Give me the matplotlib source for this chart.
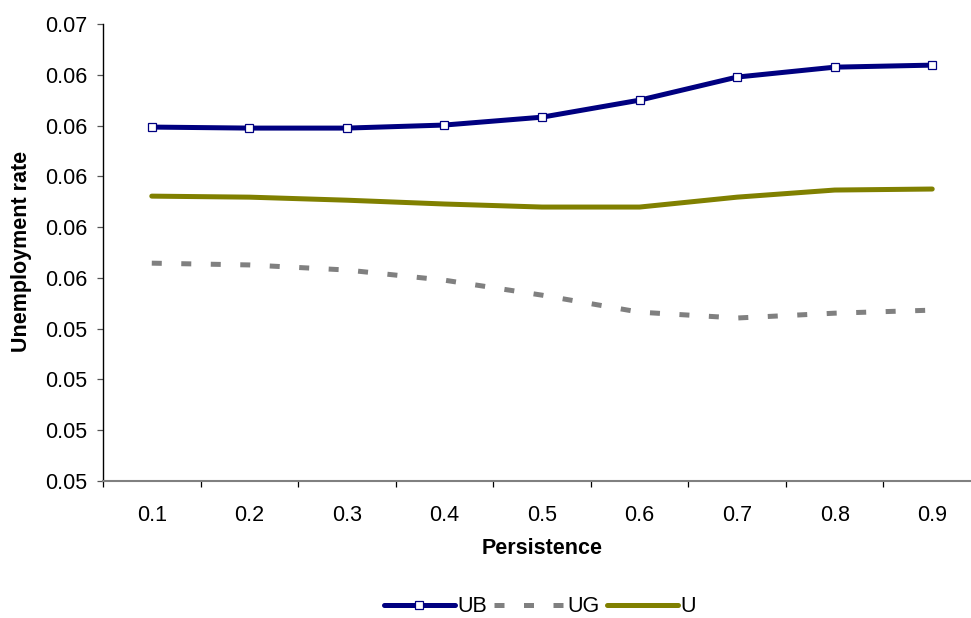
import matplotlib
matplotlib.use("Agg")
import matplotlib.pyplot as plt
from matplotlib.ticker import FormatStrFormatter, FixedLocator

plt.rcParams['font.family'] = ['Liberation Sans', 'DejaVu Sans']

persistence = ["0.1", "0.2", "0.3", "0.4", "0.5", "0.6", "0.7", "0.8", "0.9"]
ub = [0.06194, 0.06190, 0.06190, 0.06202, 0.06233, 0.06300, 0.06391, 0.06430, 0.06438]
ug = [0.05658, 0.05651, 0.05631, 0.05591, 0.05532, 0.05465, 0.05442, 0.05461, 0.05473]
u = [0.05922, 0.05918, 0.05906, 0.05891, 0.05879, 0.05879, 0.05918, 0.05946, 0.05950]
y_ticks = [0.048, 0.050, 0.052, 0.054, 0.056, 0.058, 0.060, 0.062, 0.064, 0.066]

W, H = 971, 618
fig = plt.figure(figsize=(W / 100, H / 100), dpi=100)
# plot area runs a little past the right edge, as in the original
ax = fig.add_axes([103 / W, 1 - 481 / H, 878 / W, 457 / H])

x = list(range(len(persistence)))
ax.plot(x, ub, color='#000080', lw=3.6, marker='s', ms=6, mfc='white',
        mec='#000080', mew=0.9, label='UB', solid_capstyle='round')
ax.plot(x, ug, color='#808080', lw=3.6, linestyle=(0, (2, 3.9)),
        dash_capstyle='butt', label='UG')
ax.plot(x, u, color='#808000', lw=3.6, label='U', solid_capstyle='round')

ax.set_xlim(-0.5, len(persistence) - 0.5)
ax.set_ylim(y_ticks[0], y_ticks[-1])

ax.yaxis.set_major_locator(FixedLocator(y_ticks))
ax.yaxis.set_major_formatter(FormatStrFormatter('%.2f'))

# category boundaries get the tick marks, labels sit in the middle
ax.xaxis.set_major_locator(FixedLocator([i - 0.5 for i in range(len(persistence) + 1)]))
ax.xaxis.set_major_formatter(plt.NullFormatter())
ax.xaxis.set_minor_locator(FixedLocator(x))
ax.set_xticks(x, persistence, minor=True)

ax.tick_params(axis='y', which='major', direction='out', length=4.3, width=0.9,
               color='#555555', labelsize=15.5, pad=7)
ax.tick_params(axis='x', which='major', direction='out', length=4.3, width=0.9,
               color='black')
ax.tick_params(axis='x', which='minor', length=0, labelsize=15.5, pad=17)

for side in ['top', 'right']:
    ax.spines[side].set_visible(False)
ax.spines['left'].set_color('black')
ax.spines['left'].set_linewidth(1.0)
ax.spines['bottom'].set_color('#808080')
ax.spines['bottom'].set_linewidth(1.5)

fig.text(542 / W, 1 - 549 / H, 'Persistence', ha='center', va='center',
         fontsize=15.5, fontweight='bold')
fig.text(22 / W, 1 - 251 / H, 'Unemployment rate', ha='center', va='center',
         rotation=90, fontsize=15.5, fontweight='bold')

fig.legend(loc='center', bbox_to_anchor=(540 / W, 1 - 607 / H), ncol=3,
           frameon=False, fontsize=15.5, handlelength=3.3, handletextpad=0.1,
           columnspacing=0.35, borderaxespad=0)

fig.savefig('out.png', dpi=100)
